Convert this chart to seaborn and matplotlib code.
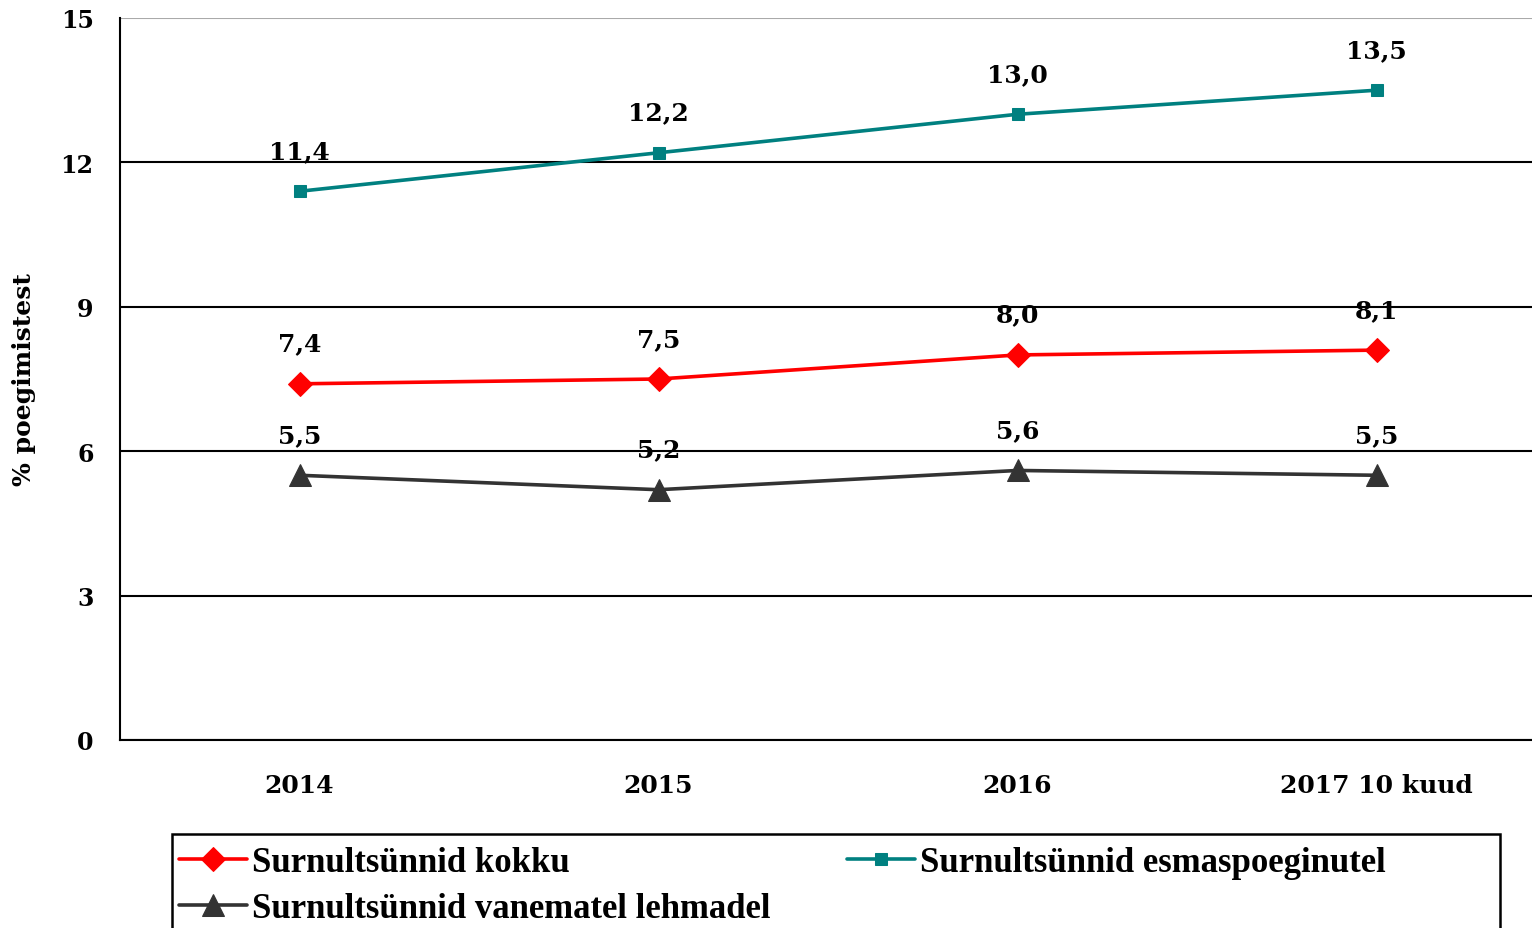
import pandas as pd
import seaborn as sns
import matplotlib.pyplot as plt
from matplotlib.patches import Rectangle

# data
years = ["2014", "2015", "2016", "2017 10 kuud"]
kokku = [7.4, 7.5, 8.0, 8.1]
esmaspoeginutel = [11.4, 12.2, 13.0, 13.5]
vanematel = [5.5, 5.2, 5.6, 5.5]
series_names = ["Surnultsünnid kokku", "Surnultsünnid esmaspoeginutel",
                "Surnultsünnid vanematel lehmadel"]

sns.set_style("white")
plt.rcParams['font.family'] = ['DejaVu Serif', 'DejaVu Sans']
plt.rcParams['font.weight'] = 'bold'
plt.rcParams['text.color'] = 'black'
plt.rcParams['xtick.color'] = 'black'
plt.rcParams['ytick.color'] = 'black'
plt.rcParams['axes.labelcolor'] = 'black'

fig = plt.figure(figsize=(15.32, 9.29), dpi=100)
ax = fig.add_axes([120 / 1532, 1 - 741 / 929, 1436 / 1532, 722 / 929])

x = list(range(len(years)))
styles = [
    (kokku, series_names[0], "#FF0000", "D", 12),
    (esmaspoeginutel, series_names[1], "#008080", "s", 8.5),
    (vanematel, series_names[2], "#333333", "^", 16),
]
handles = {}
for vals, name, col, mk, ms in styles:
    sns.lineplot(x=x, y=vals, ax=ax, color=col, marker=mk, markersize=ms,
                 markeredgecolor=col, linewidth=2.6, label=name, sort=False)
    handles[name] = ax.get_lines()[-1]
    for xi, v in zip(x, vals):
        ax.annotate(f"{v:.1f}".replace(".", ","), (xi, v), xytext=(0, 29),
                    textcoords="offset points", ha="center", va="center",
                    fontsize=18, fontweight="bold", color="black")

ax.set_xlim(-0.5, 3.5)
ax.set_ylim(0, 15)
ax.set_yticks([0, 3, 6, 9, 12, 15])
ax.set_xticks(x)
ax.set_xticklabels(years)
ax.set_xticks([-0.5, 0.5, 1.5, 2.5], minor=True)
ax.tick_params(axis="x", which="major", length=0, pad=24, labelsize=18)
ax.tick_params(axis="x", which="minor", length=7, width=1.5, color="black", direction="out")
ax.tick_params(axis="y", length=7, width=1.5, color="black", direction="out", pad=12, labelsize=17)
for lab in ax.get_xticklabels() + ax.get_yticklabels():
    lab.set_fontweight("bold")

ax.grid(axis="y", color="black", linewidth=1.5)
ax.grid(axis="x", visible=False)
ax.get_ygridlines()[-1].set_color("#aaaaaa")
for side in ["top", "right"]:
    ax.spines[side].set_visible(False)
for side in ["left", "bottom"]:
    ax.spines[side].set_color("black")
    ax.spines[side].set_linewidth(1.5)

ax.set_xlabel("")
ax.set_ylabel("% poegimistest", fontsize=18, fontweight="bold", labelpad=18)

ax.get_legend().remove()
# legend box, cut at the bottom like the original
fig.patches.append(Rectangle((172 / 1532, -0.05), 1328 / 1532, (929 - 835) / 929 + 0.05,
                             transform=fig.transFigure, fill=False,
                             edgecolor="black", linewidth=1.8))
order = [series_names[0], series_names[2], series_names[1]]
leg = fig.legend([handles[n] for n in order], order, loc="upper left",
                 bbox_to_anchor=(174 / 1532, 1 - 842 / 929), ncol=2, frameon=False,
                 prop={"family": "Liberation Serif", "weight": "bold", "size": 25},
                 handlelength=1.95, handletextpad=0.15, columnspacing=2.2,
                 labelspacing=0.38, borderpad=0.15, borderaxespad=0)
for t in leg.get_texts():
    t.set_color("black")

fig.savefig("out.png", dpi=100)
